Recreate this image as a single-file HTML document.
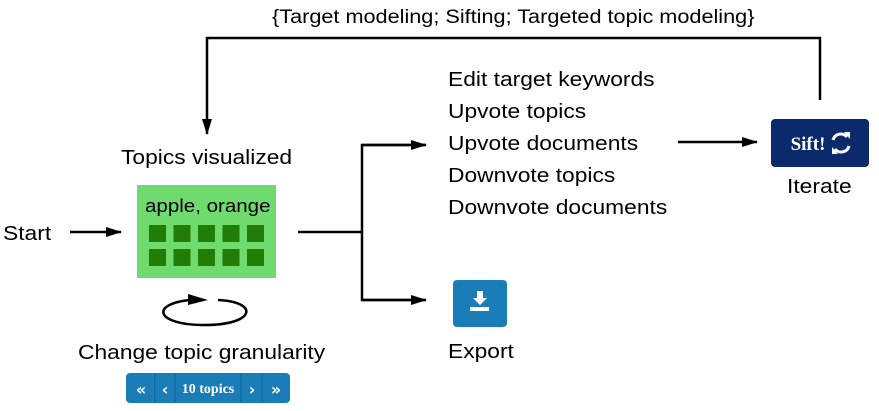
<!DOCTYPE html>
<html><head><style>
body{margin:0;width:879px;height:411px;background:#fff;position:relative;font-family:"Liberation Sans",sans-serif;overflow:hidden}
.t{position:absolute;font-size:20px;color:#000;white-space:nowrap;line-height:20px;transform:scaleX(1.14);transform-origin:0 0}
</style></head><body>
<svg width="879" height="411" style="position:absolute;left:0;top:0">
<defs>
<marker id="b" markerWidth="16" markerHeight="10" refX="15" refY="5" orient="auto" markerUnits="userSpaceOnUse"><path d="M0,0 L16,5 L0,10 z" fill="#000"/></marker></defs>
<g stroke="#000" stroke-width="2.5" fill="none">
<polyline points="820,100 820,38 207,38 207,134" marker-end="url(#b)"/>
<line x1="70" y1="232" x2="121" y2="232" marker-end="url(#b)"/>
<line x1="298" y1="232" x2="362" y2="232"/>
<polyline points="425,145 362,145 362,300 425,300"/>
<line x1="362" y1="145" x2="426" y2="145" marker-end="url(#b)"/>
<line x1="362" y1="300" x2="426" y2="300" marker-end="url(#b)"/>
<line x1="678" y1="142" x2="757" y2="142" marker-end="url(#b)"/>
<path d="M190,300 C150,304 155,325 205,325 C255,325 260,302 218,300" />
</g>
<path d="M188,294 L208,300 L188,305 z" fill="#000"/>
<rect x="137" y="185" width="139" height="93" fill="#6fdb6f"/>
<g fill="#217d05">
<rect x="149" y="225" width="17" height="17"/><rect x="173.5" y="225" width="17" height="17"/><rect x="198" y="225" width="17" height="17"/><rect x="222.5" y="225" width="17" height="17"/><rect x="247" y="225" width="17" height="17"/>
<rect x="149" y="249" width="17" height="17"/><rect x="173.5" y="249" width="17" height="17"/><rect x="198" y="249" width="17" height="17"/><rect x="222.5" y="249" width="17" height="17"/><rect x="247" y="249" width="17" height="17"/>
</g>
<rect x="126" y="373" width="164" height="30" rx="4" fill="#1a7db8"/>
<g stroke="#136394" stroke-width="1"><line x1="155" y1="373" x2="155" y2="403"/><line x1="175" y1="373" x2="175" y2="403"/><line x1="241" y1="373" x2="241" y2="403"/><line x1="262" y1="373" x2="262" y2="403"/></g>
<g fill="#fff" font-family="DejaVu Sans,sans-serif" font-weight="bold" font-size="16">
<text x="141" y="395" text-anchor="middle">«</text><text x="165" y="395" text-anchor="middle">‹</text>
<text x="252" y="395" text-anchor="middle">›</text><text x="276" y="395" text-anchor="middle">»</text></g>
<text x="208" y="393" fill="#fff" font-family="Liberation Serif,serif" font-weight="bold" font-size="14" text-anchor="middle">10 topics</text>
<rect x="771" y="119" width="98" height="48" rx="4" fill="#0a2a6b"/>
<text x="808" y="150" fill="#fff" font-family="Liberation Serif,serif" font-weight="bold" font-size="19" text-anchor="middle">Sift!</text>
<g stroke="#fff" stroke-width="3" fill="none"><path d="M833,140 A8,8 0 0 1 847,137"/><path d="M849,146 A8,8 0 0 1 835,149"/></g>
<path d="M844,132 L850,132 L850,139 z M838,154 L832,154 L832,147 z" fill="#fff"/>
<rect x="453" y="280" width="54" height="47" rx="4" fill="#1a7db8"/>
<path d="M477,291 h6 v7 h4 l-7,7 l-7,-7 h4 z" fill="#fff"/><rect x="470" y="307" width="19" height="4" fill="#fff"/>
</svg>
<div class="t" style="left:272px;top:8px;font-size:19px">{Target modeling; Sifting; Targeted topic modeling}</div>
<div class="t" style="left:121px;top:148px">Topics visualized</div>
<div class="t" style="left:145px;top:196px;font-size:18px">apple, orange</div>
<div class="t" style="left:3px;top:224px">Start</div>
<div class="t" style="left:78px;top:343px">Change topic granularity</div>
<div class="t" style="left:448px;top:70px">Edit target keywords</div>
<div class="t" style="left:448px;top:102px">Upvote topics</div>
<div class="t" style="left:448px;top:134px">Upvote documents</div>
<div class="t" style="left:448px;top:166px">Downvote topics</div>
<div class="t" style="left:448px;top:198px">Downvote documents</div>
<div class="t" style="left:787px;top:177px">Iterate</div>
<div class="t" style="left:448px;top:342px">Export</div>
</body></html>
